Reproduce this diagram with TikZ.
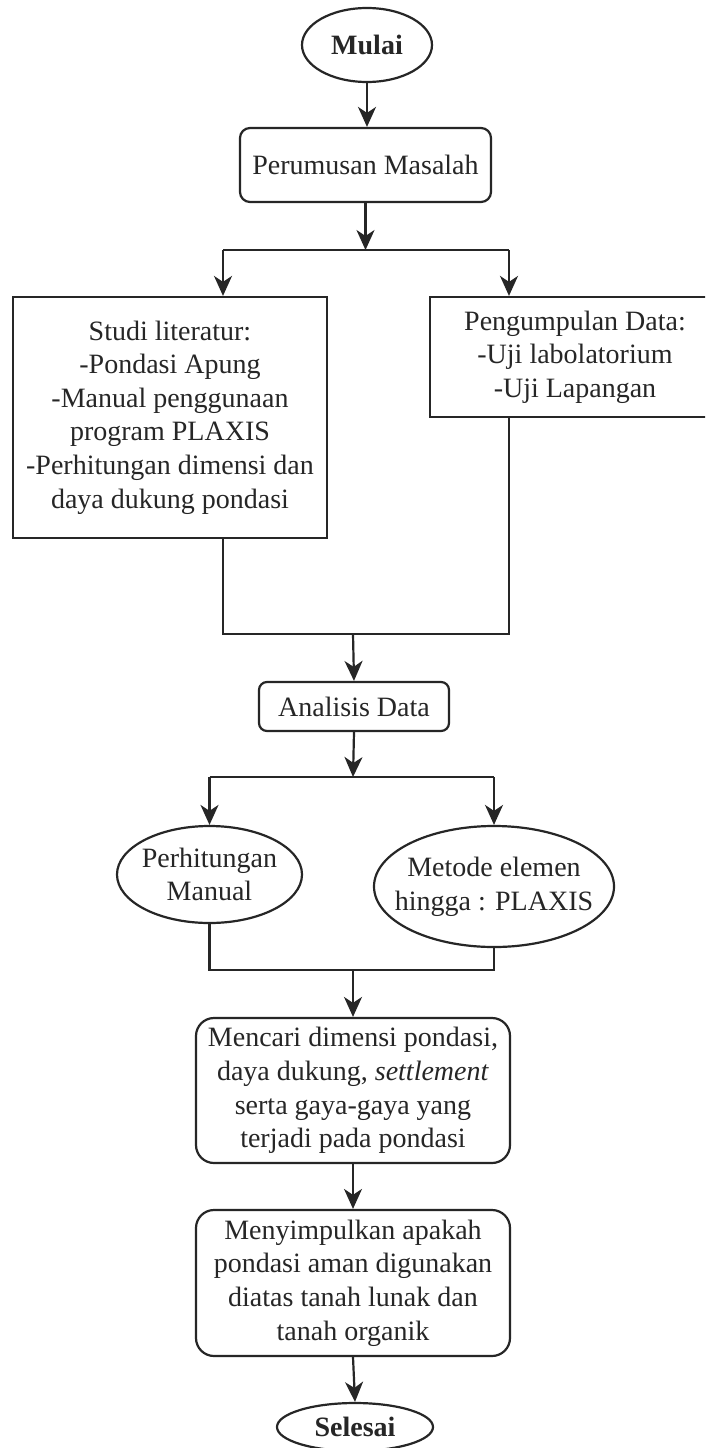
\documentclass[tikz,border=0pt]{standalone}
\usepackage{fontspec}
\setmainfont{Liberation Serif}
\usetikzlibrary{shapes.geometric,arrows.meta}
\begin{document}
\begin{tikzpicture}[x=1pt,y=-1pt,
  base/.style={draw=black!85, line width=2.2pt, align=center, inner sep=0pt,
    text=black!85, font=\fontsize{28}{33.6}\selectfont},
  rbox/.style={base, rectangle},
  rrbox/.style={base, rectangle, rounded corners=#1},
  oval/.style={base, ellipse, inner sep=-25pt},
  conn/.style={line width=2.2pt, draw=black!85},
  arr/.style={conn, -{Stealth[length=20pt,width=18pt,inset=6pt]}}]
\useasboundingbox (0,0) rectangle (705,1448);
\clip (0,0) rectangle (705,1448);
\fill[white] (0,0) rectangle (705,1448);
\node[oval, minimum width=130pt, minimum height=74pt] (mulai) at (367,45) {\bfseries Mulai};
\node[rrbox=10pt, minimum width=251pt, minimum height=74pt] (rumus) at (365.5,165) {Perumusan Masalah};
\node[rbox, minimum width=314pt, minimum height=241pt] (studi) at (170,417.5) {Studi literatur:\\-Pondasi Apung\\-Manual penggunaan\\program PLAXIS\\-Perhitungan dimensi dan\\daya dukung pondasi};
\node[rbox, minimum width=290pt, minimum height=120pt] (kumpul) at (575,357) {Pengumpulan Data:\\-Uji labolatorium\\-Uji Lapangan};
\node[rrbox=8pt, minimum width=190pt, minimum height=49pt] (analisis) at (354,706.5) {Analisis Data};
\node[oval, minimum width=185pt, minimum height=97pt] (manual) at (209.5,874.5) {Perhitungan\\Manual};
\node[oval, minimum width=240pt, minimum height=121pt] (fem) at (494,886.5) {Metode elemen\\hingga : PLAXIS};
\node[rrbox=18pt, minimum width=314pt, minimum height=145pt] (cari) at (353,1090.5) {Mencari dimensi pondasi,\\daya dukung, \textit{settlement}\\serta gaya-gaya yang\\terjadi pada pondasi};
\node[rrbox=18pt, minimum width=314pt, minimum height=146pt] (simpul) at (353,1283) {Menyimpulkan apakah\\pondasi aman digunakan\\diatas tanah lunak dan\\tanah organik};
\node[oval, minimum width=156pt, minimum height=48pt] (selesai) at (355,1427) {\bfseries Selesai};
\coordinate (s1) at (365.5,250);
\coordinate (s1L) at (223,250);
\coordinate (s1R) at (509,250);
\coordinate (m1) at (353,634);
\coordinate (m1L) at (223,634);
\coordinate (m1R) at (509,634);
\coordinate (s2) at (353,777);
\coordinate (s2L) at (209.5,777);
\coordinate (s2R) at (494,777);
\coordinate (m2) at (353,970);
\coordinate (m2L) at (209.5,970);
\coordinate (m2R) at (494,970);
\draw[arr] (mulai.south) -- (mulai.south |- rumus.north);
\draw[arr] (rumus.south) -- (s1);
\draw[conn] (s1L) -- (s1R);
\draw[arr] (s1L) -- (s1L |- studi.north);
\draw[arr] (s1R) -- (s1R |- kumpul.north);
\draw[conn] (studi.south -| m1L) -- (m1L) -- (m1R) -- (kumpul.south -| m1R);
\draw[arr] (m1) -- (analisis.north);
\draw[arr] (analisis.south) -- (s2);
\draw[conn] (s2L) -- (s2R);
\draw[arr] (s2L) -- (manual.north);
\draw[arr] (s2R) -- (fem.north);
\draw[conn] (manual.south) -- (m2L) -- (m2R) -- (fem.south);
\draw[arr] (m2) -- (cari.north);
\draw[arr] (cari.south) -- (simpul.north);
\draw[arr] (simpul.south) -- (selesai.north);
\end{tikzpicture}
\end{document}
